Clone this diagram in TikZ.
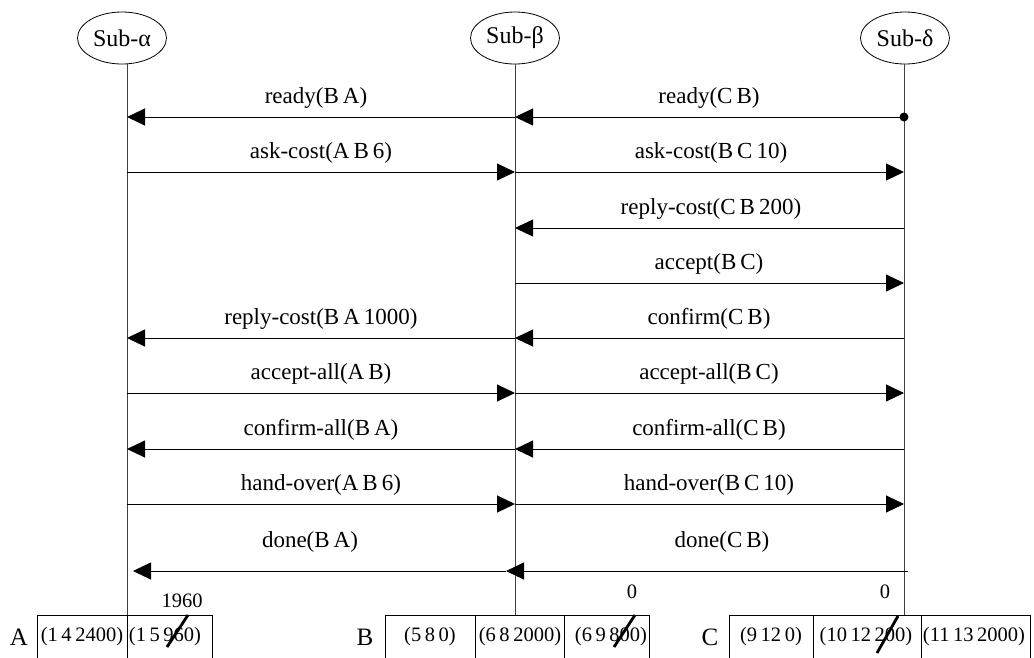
\documentclass[tikz,border=0pt]{standalone}
\usepackage{fontspec}
\setmainfont{Liberation Serif}
\newfontfamily\lblfont{Liberation Serif}[WordSpace=0.75]
\newfontfamily\cellfont{Liberation Serif}[WordSpace=0.7]
\usetikzlibrary{arrows.meta,shapes.geometric}

\begin{document}
\begin{tikzpicture}[x=1pt,y=-1pt,
  agent/.style={draw, ellipse, line width=0.8pt, minimum width=89pt, minimum height=52pt,
                inner sep=0pt, font=\fontsize{24}{26}\selectfont},
  life/.style={line width=1pt, draw=black!75},
  msg/.style={line width=1pt, -{Triangle[length=18pt,width=17pt]}},
  lbl/.style={font=\lblfont\fontsize{23}{25}\selectfont, anchor=base, inner sep=0pt},
  cell/.style={font=\cellfont\fontsize{20.5}{23}\selectfont, inner sep=0pt},
  tag/.style={font=\fontsize{25}{27}\selectfont, inner sep=0pt},
  note/.style={font=\fontsize{20.5}{22}\selectfont, inner sep=0pt},
  box/.style={draw, line width=1pt},
  strike/.style={line width=2.8pt}
]
\useasboundingbox (0,0) rectangle (1034,657);

% agents
\node[agent] (sa) at (122,38) {Sub-α};
\node[agent] (sb) at (515,38) {Sub-β};
\node[agent] (sd) at (905,38) {Sub-δ};

% lifeline end points
\coordinate (Aend) at (127,657);
\coordinate (Bend) at (515,615);
\coordinate (Cend) at (904,615);
\draw[life] (sa.south -| Aend) -- (Aend);
\draw[life] (sb.south -| Bend) -- (Bend);
\draw[life] (sd.south -| Cend) -- (Cend);

% message rows on each lifeline
\foreach \i/\y in {1/117,2/172,3/228,4/283,5/338,6/393,7/449,8/504,9/571} {
  \coordinate (A\i) at (127,\y);
  \coordinate (B\i) at (515,\y);
  \coordinate (C\i) at (904,\y);
}
\coordinate (A9t) at (133,571);
\coordinate (B9t) at (506,571);
\coordinate (C9e) at (908,571);

% messages
\draw[msg] (B1) -- (A1);
\draw[msg] (C1) -- (B1);
\fill (C1) circle (4.5pt);
\draw[msg] (A2) -- (B2);
\draw[msg] (B2) -- (C2);
\draw[msg] (C3) -- (B3);
\draw[msg] (B4) -- (C4);
\draw[msg] (B5) -- (A5);
\draw[msg] (C5) -- (B5);
\draw[msg] (A6) -- (B6);
\draw[msg] (B6) -- (C6);
\draw[msg] (B7) -- (A7);
\draw[msg] (C7) -- (B7);
\draw[msg] (A8) -- (B8);
\draw[msg] (B8) -- (C8);
\draw[msg] (B9t) -- (A9t);
\draw[msg] (C9e) -- (B9t);

% message labels
\node[lbl] (l1a) at (316,103) {ready(B A)};
\node[lbl] (l1b) at (709,103) {ready(C B)};
\node[lbl] (l2a) at (321,158) {ask-cost(A B 6)};
\node[lbl] (l2b) at (711,158) {ask-cost(B C 10)};
\node[lbl] (l3b) at (711,214) {reply-cost(C B 200)};
\node[lbl] (l4b) at (709,269) {accept(B C)};
\node[lbl] (l5a) at (321,324) {reply-cost(B A 1000)};
\node[lbl] (l5b) at (709,324) {confirm(C B)};
\node[lbl] (l6a) at (321,379) {accept-all(A B)};
\node[lbl] (l6b) at (709,379) {accept-all(B C)};
\node[lbl] (l7a) at (321,435) {confirm-all(B A)};
\node[lbl] (l7b) at (709,435) {confirm-all(C B)};
\node[lbl] (l8a) at (321,490) {hand-over(A B 6)};
\node[lbl] (l8b) at (709,490) {hand-over(B C 10)};
\node[lbl] (l9a) at (310,547) {done(B A)};
\node[lbl] (l9b) at (722,547) {done(C B)};

% cost tables
\draw[box] (37,660) |- (212,615) -- (212,660);
\draw[box] (127,615) -- (127,660);
\draw[box] (385,660) |- (649,615) -- (649,660);
\draw[box] (475,615) -- (475,660) (564,615) -- (564,660);
\draw[box] (729,660) |- (1030,615) -- (1030,660);
\draw[box] (813,615) -- (813,660) (921,615) -- (921,660);

\node[tag] (tA) at (19,637) {A};
\node[tag] (tB) at (365,637) {B};
\node[tag] (tC) at (710,637) {C};

\node[cell] (a1) at (82,637) {(1 4 2400)};
\node[cell] (a2) at (165,637) {(1 5 960)};
\node[cell] (b1) at (430,637) {(5 8 0)};
\node[cell] (b2) at (520,637) {(6 8 2000)};
\node[cell] (b3) at (611,637) {(6 9 800)};
\node[cell] (c1) at (771,637) {(9 12 0)};
\node[cell] (c2) at (866,637) {(10 12 200)};
\node[cell] (c3) at (974,637) {(11 13 2000)};

% revised values
\draw[strike] (167,647) -- (188,615);
\draw[strike] (614,647) -- (635,615);
\draw[strike] (877,653) -- (898,616);
\node[note] (n1) at (182,601) {1960};
\node[note] (n2) at (632,592) {0};
\node[note] (n3) at (885,592) {0};
\end{tikzpicture}
\end{document}
